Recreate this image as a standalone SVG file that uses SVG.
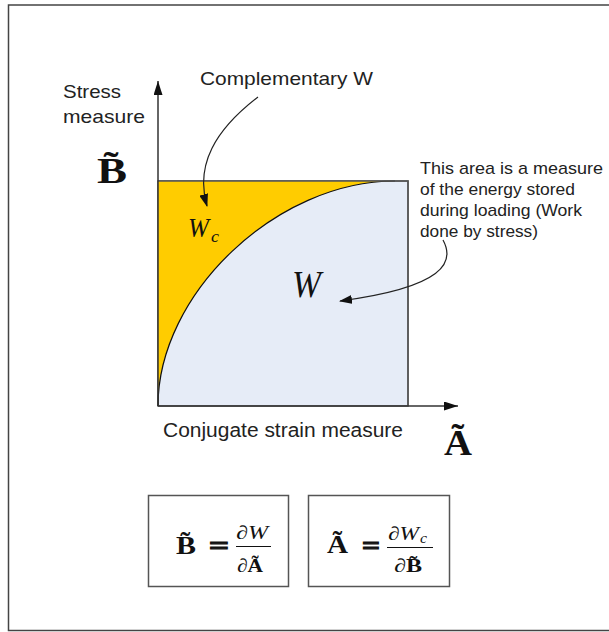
<svg xmlns="http://www.w3.org/2000/svg" width="609" height="632" viewBox="0 0 609 632">
<defs>
<style>
.sans{font-family:"Liberation Sans",Arial,sans-serif;fill:#222;}
.math{font-family:"Liberation Serif","Times New Roman",serif;fill:#111;}
.b{font-weight:bold;}
.i{font-style:italic;}
.eq{stroke:#111;stroke-width:1.2;}
.conn{fill:none;stroke:#222;stroke-width:1.2;}
.axis{fill:none;stroke:#333;stroke-width:1.5;}
.box{fill:#fff;stroke:#555;stroke-width:1.5;}
</style>
<marker id="ah" markerUnits="userSpaceOnUse" markerWidth="13" markerHeight="9" refX="12" refY="4.5" orient="auto" viewBox="0 0 13 9">
<path d="M0,0 L13,4.5 L0,9 Z" fill="#111"/>
</marker>
<marker id="axh" markerUnits="userSpaceOnUse" markerWidth="14" markerHeight="9" refX="14" refY="4.5" orient="auto" viewBox="0 0 14 9">
<path d="M0,0 L14,4.5 L0,9 Z" fill="#111"/>
</marker>
</defs>
<rect x="0" y="0" width="609" height="632" fill="#fff"/>
<rect x="8.5" y="5" width="620" height="625.5" fill="none" stroke="#444" stroke-width="1.5"/>

<g id="plot">
<rect x="158" y="181" width="250" height="225" fill="#E6ECF7" stroke="#555" stroke-width="1.5"/>
<path d="M158,406 C158,293.5 276.5,181 395,181 L158,181 Z" fill="#FFCC00"/>
<path d="M158,406 C158,293.5 276.5,181 395,181" fill="none" stroke="#111" stroke-width="1.2"/>
<path d="M158,181 L408,181 L408,406" fill="none" stroke="#555" stroke-width="1.5"/>
</g>

<g id="axes">
<path class="axis" d="M158,406 L158,81" marker-end="url(#axh)"/>
<path class="axis" d="M158,406 L458,406" marker-end="url(#axh)"/>
</g>

<g id="label-stress">
<text class="sans" x="63" y="98" font-size="19" textLength="58" lengthAdjust="spacingAndGlyphs">Stress</text>
<text class="sans" x="63" y="123" font-size="19" textLength="82" lengthAdjust="spacingAndGlyphs">measure</text>
<text class="math b" x="97" y="183" font-size="36" textLength="30" lengthAdjust="spacingAndGlyphs">B̃</text>
</g>

<g id="label-strain">
<text class="sans" x="163" y="437" font-size="20" textLength="240" lengthAdjust="spacingAndGlyphs">Conjugate strain measure</text>
<text class="math b" x="444" y="455" font-size="36" textLength="28" lengthAdjust="spacingAndGlyphs">Ã</text>
</g>

<g id="label-complementary">
<text class="sans" x="200" y="85" font-size="18.5" textLength="173" lengthAdjust="spacingAndGlyphs">Complementary W</text>
</g>

<g id="label-area">
<text class="sans" x="420" y="174" font-size="16.2" textLength="183" lengthAdjust="spacingAndGlyphs">This area is a measure</text>
<text class="sans" x="420" y="195" font-size="16.2" textLength="155" lengthAdjust="spacingAndGlyphs">of the energy stored</text>
<text class="sans" x="420" y="216" font-size="16.2" textLength="162" lengthAdjust="spacingAndGlyphs">during loading (Work</text>
<text class="sans" x="420" y="237" font-size="16.2" textLength="118" lengthAdjust="spacingAndGlyphs">done by stress)</text>
</g>

<g id="label-Wc">
<text class="math i" x="188" y="237" font-size="27" textLength="21" lengthAdjust="spacingAndGlyphs">W</text>
<text class="math i" x="211" y="242" font-size="17" textLength="8" lengthAdjust="spacingAndGlyphs">c</text>
</g>

<g id="label-W">
<text class="math i" x="292" y="297" font-size="37" textLength="29" lengthAdjust="spacingAndGlyphs">W</text>
</g>

<g id="connectors">
<path class="conn" d="M258,97 C215,130 195,165 207,206" marker-end="url(#ah)"/>
<path class="conn" d="M443,240 C455,262 445,287 340,301" marker-end="url(#ah)"/>
</g>

<g id="eq1">
<rect class="box" x="148.5" y="495.5" width="140" height="91"/>
<text class="math b" x="176" y="554" font-size="25" textLength="20" lengthAdjust="spacingAndGlyphs">B̃</text>
<text class="math b eq" x="209" y="554" font-size="26" textLength="20" lengthAdjust="spacingAndGlyphs">=</text>
<text class="math" x="236" y="539" font-size="19" textLength="32" lengthAdjust="spacingAndGlyphs">∂<tspan class="i">W</tspan></text>
<line x1="236" y1="546.5" x2="271" y2="546.5" stroke="#111" stroke-width="1.2"/>
<text class="math" x="237" y="572" font-size="19" textLength="26" lengthAdjust="spacingAndGlyphs">∂<tspan class="b">Ã</tspan></text>
</g>

<g id="eq2">
<rect class="box" x="308.5" y="495.5" width="141" height="91"/>
<text class="math b" x="327" y="553" font-size="25" textLength="21" lengthAdjust="spacingAndGlyphs">Ã</text>
<text class="math b eq" x="362" y="554" font-size="26" textLength="18" lengthAdjust="spacingAndGlyphs">=</text>
<text class="math" x="388" y="540" font-size="19" textLength="31" lengthAdjust="spacingAndGlyphs">∂<tspan class="i">W</tspan></text>
<text class="math i" x="420" y="543" font-size="14" textLength="7" lengthAdjust="spacingAndGlyphs">c</text>
<line x1="387" y1="547.5" x2="433" y2="547.5" stroke="#111" stroke-width="1.2"/>
<text class="math" x="394" y="572" font-size="19" textLength="28" lengthAdjust="spacingAndGlyphs">∂<tspan class="b">B̃</tspan></text>
</g>
</svg>
